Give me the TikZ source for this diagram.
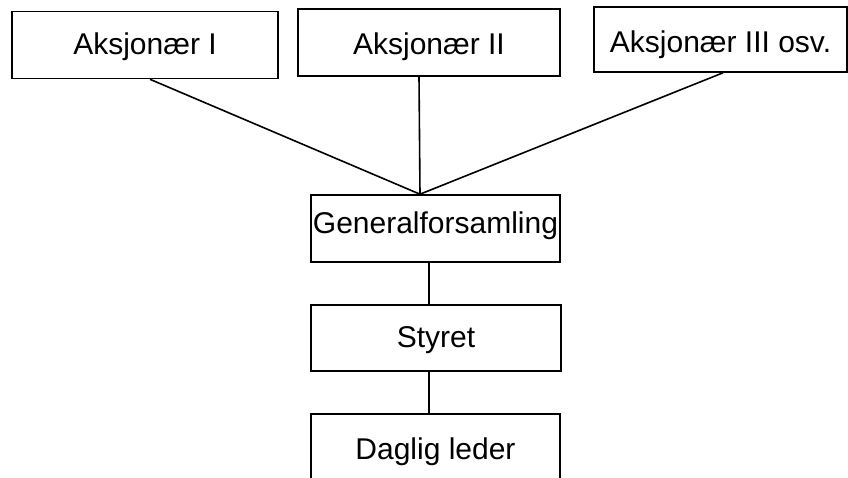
\documentclass[tikz,border=0pt]{standalone}
\usepackage{fontspec}
\setmainfont{Liberation Sans}
\begin{document}
\begin{tikzpicture}[x=1pt,y=-1pt,
  orgbox/.style={draw=black,line width=1.6pt,rectangle,inner sep=0pt,text height=21.5pt,text depth=0pt,font=\fontsize{30}{36}\selectfont},
  link/.style={draw=black,line width=1.6pt}]
\useasboundingbox (0,0) rectangle (848,477);
\begin{scope}
\clip (0,0) rectangle (848,477);
\node[orgbox,minimum width=266pt,minimum height=67pt,text depth=2pt] (a1) at (145,45) {Aksjonær I};
\node[orgbox,minimum width=262pt,minimum height=67pt,text height=24.5pt] (a2) at (429,42.5) {Aksjonær II};
\node[orgbox,minimum width=253pt,minimum height=65pt,text height=26.5pt] (a3) at (720.5,39.5) {Aksjonær III osv.};
\node[orgbox,minimum width=249pt,minimum height=67pt,text depth=12pt] (gf) at (435.5,228.5) {Generalforsamling};
\node[orgbox,minimum width=250pt,minimum height=66pt,text depth=2pt] (st) at (436,338) {Styret};
\node[orgbox,minimum width=249pt,minimum height=70pt] (dl) at (435.5,449) {Daglig leder};
\coordinate (gftop) at ([xshift=-15.5pt]gf.north);
\draw[link] ([xshift=5pt]a1.south) -- (gftop);
\draw[link] ([xshift=-10pt]a2.south) -- (gftop);
\draw[link] ([xshift=2.5pt]a3.south) -- (gftop);
\draw[link] ([xshift=-6.5pt]gf.south) -- ([xshift=-7pt]st.north);
\draw[link] ([xshift=-7pt]st.south) -- ([xshift=-6.5pt]dl.north);
\end{scope}
\end{tikzpicture}
\end{document}
